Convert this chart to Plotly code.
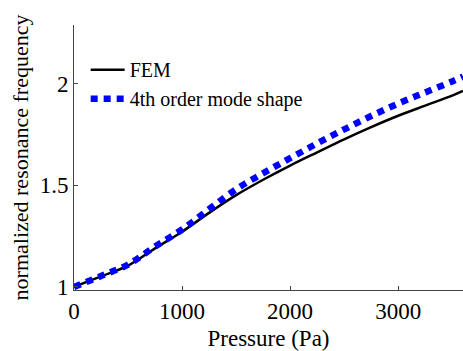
import plotly.graph_objects as go

pressure = [0, 250, 500, 750, 1000, 1250, 1500, 1750, 2000, 2250, 2500, 2750, 3000, 3250, 3500, 3600]
fem = [1.0, 1.052, 1.105, 1.19, 1.272, 1.365, 1.452, 1.528, 1.598, 1.663, 1.727, 1.787, 1.843, 1.893, 1.942, 1.965]
mode4 = [1.0, 1.054, 1.11, 1.199, 1.283, 1.383, 1.481, 1.56, 1.634, 1.707, 1.776, 1.842, 1.903, 1.958, 2.012, 2.036]

x_ticks = [0, 1000, 2000, 3000]
y_ticks = [1, 1.5, 2]
y_tick_text = ["1", "1.5", "2"]

font_family = "Liberation Serif, Times New Roman, serif"

fig = go.Figure()
fig.add_trace(go.Scatter(x=pressure, y=fem, mode="lines", name="FEM",
                         line=dict(color="black", width=2.5, shape="spline")))
fig.add_trace(go.Scatter(x=pressure, y=mode4, mode="lines", name="4th order mode shape",
                         line=dict(color="#0000ff", width=6.5, dash="7px,6px", shape="spline")))

fig.update_layout(
    width=463, height=351,
    margin=dict(l=74, r=0, t=25, b=61),
    paper_bgcolor="white", plot_bgcolor="white",
    font=dict(family=font_family, size=20, color="black"),
    showlegend=True,
    legend=dict(x=0.03, y=0.905, xanchor="left", yanchor="top",
                bgcolor="rgba(0,0,0,0)", font=dict(size=20, family=font_family),
                tracegroupgap=0, itemwidth=34),
    xaxis=dict(range=[0, 3600], tickvals=x_ticks, ticks="inside", ticklen=4,
               tickcolor="#444", showline=True, linecolor="#444", linewidth=1,
               showgrid=False, zeroline=False,
               title=dict(text="Pressure (Pa)", font=dict(size=23), standoff=8),
               tickfont=dict(size=23)),
    yaxis=dict(range=[0.985, 2.29], tickvals=y_ticks, ticktext=y_tick_text,
               ticks="inside", ticklen=4, tickcolor="#444", showline=True,
               linecolor="#444", linewidth=1, showgrid=False, zeroline=False,
               title=dict(text="normalized resonance frequency", font=dict(size=22), standoff=4),
               tickfont=dict(size=23)),
)

fig.write_html("out.html")
